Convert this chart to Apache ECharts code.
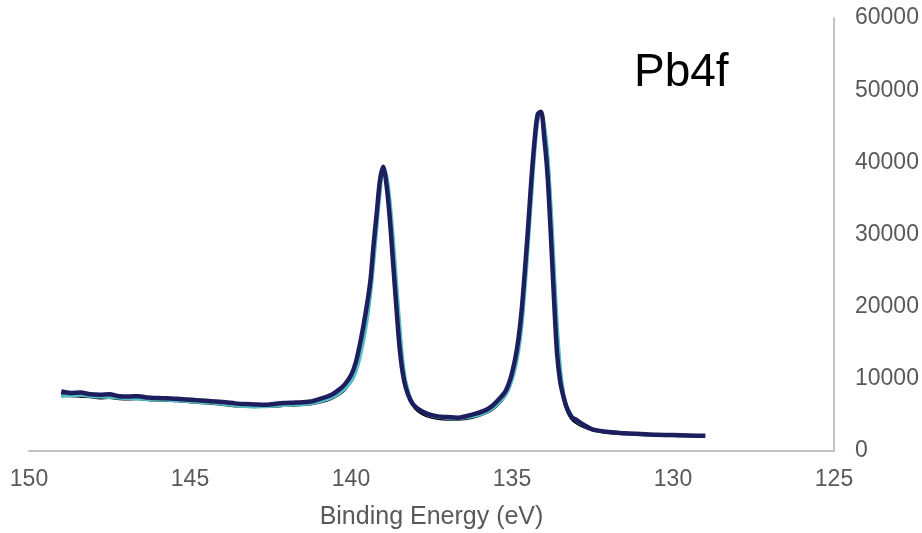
<!DOCTYPE html>
<html>
<head>
<meta charset="utf-8">
<script src="https://cdn.jsdelivr.net/npm/echarts@6/dist/echarts.min.js"></script>
<style>
  html, body { margin: 0; padding: 0; background: #ffffff; }
  #chart { width: 922px; height: 533px; }
</style>
</head>
<body>
<div id="chart"></div>
<script>
// Binding energies (eV), shared by all three scans
const energy = [149.0,148.7,148.4,148.1,147.8,147.5,147.2,146.9,146.6,146.3,146.0,145.7,145.4,145.1,144.8,144.5,144.2,143.9,143.6,143.3,143.0,142.7,142.4,142.1,141.8,141.5,141.2,140.9,140.6,140.4,140.2,140.0,139.85,139.7,139.55,139.4,139.3,139.2,139.1,139.0,138.9,138.8,138.7,138.6,138.5,138.4,138.3,138.15,138.0,137.8,137.6,137.3,137.0,136.7,136.4,136.1,135.8,135.6,135.4,135.2,135.05,134.9,134.8,134.7,134.6,134.5,134.4,134.3,134.2,134.1,134.0,133.9,133.8,133.7,133.6,133.5,133.4,133.3,133.15,133.0,132.8,132.5,132.2,131.9,131.5,131.0,130.5,130.0,129.5,129.0];

// Intensities (counts) for each scan
const scanBlack = [7800,7650,7600,7500,7350,7400,7250,7200,7250,7100,7050,7000,6950,6850,6750,6650,6550,6400,6250,6250,6150,6150,6200,6300,6350,6450,6550,6850,7300,7800,8500,9800,11500,14300,17800,22500,27000,32000,36500,39000,37800,34000,28800,23000,17000,12300,9400,7000,5900,5200,4800,4500,4400,4400,4500,4800,5300,5800,6600,7800,9300,11800,14300,18000,23300,29500,36000,42000,46000,46900,45000,41000,33800,25000,16500,10800,7600,5800,4500,3900,3400,2900,2650,2500,2400,2300,2200,2150,2100,2050];

const scanCyan = [7600,7700,7750,7600,7500,7450,7350,7300,7250,7150,7100,7050,7000,6900,6800,6700,6600,6450,6300,6200,6100,6150,6250,6350,6400,6450,6600,6950,7400,7900,8600,9600,11000,13400,16800,21500,26000,31000,35800,39000,38200,35000,30000,24000,18000,12800,9600,7300,6200,5500,5000,4700,4550,4500,4650,4900,5400,5900,6700,7800,9200,11500,13800,17200,22400,28500,35000,41200,45800,47000,45200,41500,34500,26000,17500,11500,8000,6200,4900,4200,3600,3000,2700,2550,2400,2300,2200,2150,2100,2050];

const scanNavy = [8250,8050,8100,7850,7800,7850,7600,7550,7600,7400,7350,7300,7250,7150,7050,6950,6850,6750,6600,6500,6450,6400,6500,6650,6700,6750,6900,7300,7800,8400,9200,10500,12300,15300,19000,23500,28500,33000,37500,39400,37000,32500,26500,20500,14800,11000,8800,7000,6100,5500,5100,4800,4700,4600,4850,5200,5700,6300,7200,8300,10000,12800,15500,19500,25000,31000,37500,43000,46700,47000,43500,38500,30500,21500,13500,9500,7500,6000,4700,4300,3700,3000,2750,2600,2450,2350,2250,2200,2150,2100];

const xTicks = [150, 145, 140, 135, 130, 125];
const yTicks = [0, 10000, 20000, 30000, 40000, 50000, 60000];

function pairs(ys) {
  return energy.map((e, i) => [e, ys[i]]);
}

const chart = echarts.init(document.getElementById('chart'), null, { renderer: 'canvas' });

const axisColor = '#c3c3c3';
const labelColor = '#595959';
const font = '"Liberation Sans", Arial, sans-serif';

chart.setOption({
  animation: false,
  backgroundColor: '#ffffff',
  grid: { left: 29, right: 88, top: 18, bottom: 82, containLabel: false, outerBoundsMode: 'none' },
  xAxis: {
    type: 'value',
    inverse: true,
    min: xTicks[xTicks.length - 1],
    max: xTicks[0],
    interval: 5,
    name: 'Binding Energy (eV)',
    nameLocation: 'middle',
    nameGap: 54,
    nameTextStyle: { color: labelColor, fontSize: 25, fontFamily: font },
    axisLine: { show: true, lineStyle: { color: axisColor, width: 2 } },
    axisTick: { show: false },
    splitLine: { show: false },
    axisLabel: { color: labelColor, fontSize: 23, fontFamily: font, margin: 17, formatter: v => String(v) }
  },
  yAxis: {
    type: 'value',
    position: 'right',
    min: yTicks[0],
    max: yTicks[yTicks.length - 1],
    interval: 10000,
    axisLine: { show: true, lineStyle: { color: axisColor, width: 2 } },
    axisTick: { show: false },
    splitLine: { show: false },
    axisLabel: { color: labelColor, fontSize: 23, fontFamily: font, margin: 21, formatter: v => String(v) }
  },
  graphic: [{
    type: 'text',
    left: 634,
    top: 50,
    style: { text: 'Pb4f', fill: '#000000', font: '46px "Liberation Sans", Arial, sans-serif' }
  }],
  series: [
    {
      type: 'line', data: pairs(scanBlack), showSymbol: false, smooth: 0.3,
      lineStyle: { color: '#000000', width: 3 }, z: 2
    },
    {
      type: 'line', data: pairs(scanCyan), showSymbol: false, smooth: 0.3,
      lineStyle: { color: '#55bec6', width: 3.5 }, z: 3
    },
    {
      type: 'line', data: pairs(scanNavy), showSymbol: false, smooth: 0.3,
      lineStyle: { color: '#1c1e5e', width: 4.5 }, z: 4
    }
  ]
});
</script>
</body>
</html>
